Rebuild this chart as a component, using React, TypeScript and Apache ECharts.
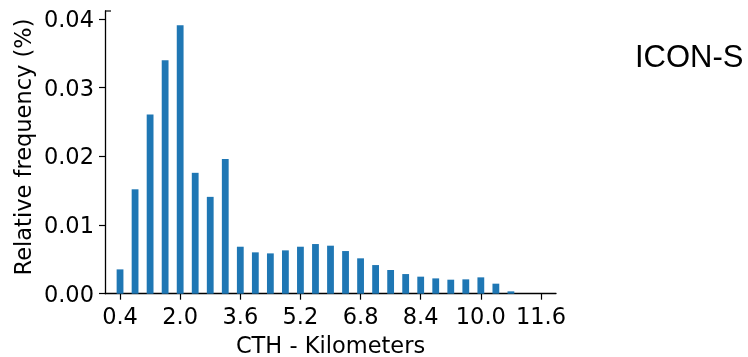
import React, { useEffect, useRef } from "react";
import * as echarts from "echarts";

const binCenters: number[] = [
  0.4, 0.8, 1.2, 1.6, 2.0, 2.4, 2.8, 3.2, 3.6, 4.0, 4.4, 4.8, 5.2, 5.6,
  6.0, 6.4, 6.8, 7.2, 7.6, 8.0, 8.4, 8.8, 9.2, 9.6, 10.0, 10.4, 10.8,
];
const frequencies: number[] = [
  0.00354, 0.0152, 0.0261, 0.034, 0.0391, 0.0176, 0.0141, 0.0196, 0.00684,
  0.00602, 0.00587, 0.00631, 0.00684, 0.00723, 0.00699, 0.00621, 0.00515,
  0.00417, 0.00345, 0.00286, 0.00248, 0.00223, 0.00204, 0.00209, 0.00238,
  0.00146, 0.00034,
];
const xTickValues: number[] = [0.4, 2.0, 3.6, 5.2, 6.8, 8.4, 10.0, 11.6];
const yTickValues: number[] = [0, 0.01, 0.02, 0.03, 0.04];

const title = "ICON-S";
const xLabel = "CTH - Kilometers";
const yLabel = "Relative frequency (%)";

const FONT = "DejaVu Sans";

export default function App() {
  const ref = useRef<HTMLDivElement>(null);
  useEffect(() => {
    if (!ref.current) return;
    const chart = echarts.init(ref.current, undefined, { renderer: "svg" });
    chart.setOption({
      animation: false,
      grid: { left: 105, top: 11, right: 192, bottom: 63.3, containLabel: false },
      xAxis: {
        type: "value",
        min: 0,
        max: 12.0,
        axisLine: { show: true, lineStyle: { color: "#000", width: 1.3 } },
        axisTick: {
          show: true,
          length: 6,
          inside: false,
          customValues: xTickValues,
          lineStyle: { color: "#000", width: 1.2 },
        },
        axisLabel: {
          customValues: xTickValues,
          margin: 11,
          fontFamily: FONT,
          fontSize: 22.5,
          color: "#000",
          formatter: (v: number) => v.toFixed(1),
        },
        splitLine: { show: false },
      },
      yAxis: {
        type: "value",
        min: 0,
        max: 0.04116,
        axisLine: { show: true, lineStyle: { color: "#000", width: 1.3 } },
        axisTick: {
          show: true,
          length: 6,
          customValues: yTickValues,
          lineStyle: { color: "#000", width: 1.2 },
        },
        axisLabel: {
          customValues: yTickValues,
          margin: 11,
          fontFamily: FONT,
          fontSize: 22.5,
          color: "#000",
          formatter: (v: number) => v.toFixed(2),
        },
        splitLine: { show: false },
      },
      series: [
        {
          type: "bar",
          data: binCenters.map((x, i) => [x, frequencies[i]]),
          barWidth: 6.8,
          itemStyle: { color: "#1f77b4" },
        },
      ],
      graphic: [
        {
          type: "line",
          shape: { x1: 105, y1: 11, x2: 111, y2: 11 },
          style: { stroke: "#000", lineWidth: 1.2 },
        },
        {
          type: "text",
          x: 635,
          y: 56,
          style: {
            text: title,
            fontFamily: "Liberation Sans",
            fontSize: 31,
            fill: "#000",
            align: "left",
            verticalAlign: "middle",
          },
        },
        {
          type: "text",
          x: 330.5,
          y: 345.3,
          style: {
            text: xLabel,
            fontFamily: FONT,
            fontSize: 22.5,
            fill: "#000",
            align: "center",
            verticalAlign: "middle",
          },
        },
        {
          type: "text",
          x: 22.5,
          y: 147,
          rotation: Math.PI / 2,
          style: {
            text: yLabel,
            fontFamily: FONT,
            fontSize: 22.5,
            fill: "#000",
            align: "center",
            verticalAlign: "middle",
          },
        },
      ],
    });
    return () => chart.dispose();
  }, []);
  return (
    <div
      ref={ref}
      style={{ position: "fixed", left: 0, top: 0, width: 748, height: 357 }}
    />
  );
}
